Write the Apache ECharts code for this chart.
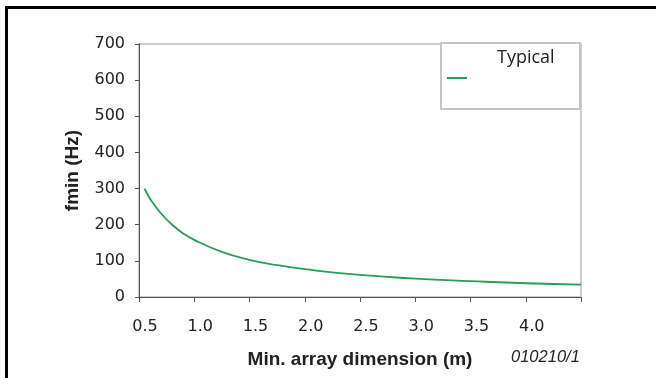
<!DOCTYPE html>
<html>
<head>
<meta charset="utf-8">
<script src="https://cdn.jsdelivr.net/npm/echarts@6/dist/echarts.min.js"></script>
<style>
html,body{margin:0;padding:0;background:#fff;}
#chart{width:656px;height:378px;}
</style>
</head>
<body>
<div id="chart"></div>
<script>
// Data
var dims = [0.55, 0.6, 0.7, 0.8, 0.9, 1.0, 1.25, 1.5, 1.75, 2.0, 2.5, 3.0, 3.5, 4.0, 4.5];
var fminTypical = [300, 272, 231, 200, 176, 158, 125, 103, 88, 77, 61, 51, 44, 38, 34];
var xTickLabels = ['0.5', '1.0', '1.5', '2.0', '2.5', '3.0', '3.5', '4.0', ''];
var yTickLabels = ['0', '100', '200', '300', '400', '500', '600', '700'];
var seriesName = 'Typical';

var chart = echarts.init(document.getElementById('chart'));
var pts = dims.map(function (d, i) { return [d, fminTypical[i]]; });
var font = '"Liberation Sans", Arial, sans-serif';
var tickFont = '"DejaVu Sans", sans-serif';

chart.setOption({
  animation: false,
  backgroundColor: '#fff',
  grid: {
    left: 139, right: 75, top: 44, bottom: 81,
    show: true, borderColor: '#bdbdbd', borderWidth: 1.5, backgroundColor: 'transparent'
  },
  xAxis: {
    type: 'value', min: 0.5, max: 4.5, interval: 0.5,
    name: 'Min. array dimension (m)', nameLocation: 'middle', nameGap: 53,
    nameTextStyle: { fontFamily: font, fontWeight: 'bold', fontSize: 19, color: '#222' },
    axisLine: { lineStyle: { color: '#555', width: 1 } },
    axisTick: { show: true, length: 5, inside: false, lineStyle: { color: '#555' } },
    splitLine: { show: false },
    axisLabel: {
      fontFamily: tickFont, fontSize: 16, color: '#222', margin: 22,
      padding: [0, 0, 0, 12],
      showMaxLabel: true,
      formatter: function (v) {
        var idx = Math.round((v - 0.5) / 0.5);
        return xTickLabels[idx] !== undefined ? xTickLabels[idx] : '';
      }
    }
  },
  yAxis: {
    type: 'value', min: 0, max: 700, interval: 100,
    name: 'fmin (Hz)', nameLocation: 'middle', nameGap: 57, nameRotate: 90,
    nameTextStyle: { fontFamily: font, fontWeight: 'bold', fontSize: 19, color: '#222' },
    axisLine: { show: true, lineStyle: { color: '#555', width: 1 } },
    axisTick: { show: true, length: 4, lineStyle: { color: '#555' } },
    splitLine: { show: false },
    axisLabel: {
      fontFamily: tickFont, fontSize: 16, color: '#222', margin: 14,
      formatter: function (v) { return yTickLabels[Math.round(v / 100)]; }
    }
  },
  legend: {
    left: 442, top: 43,
    data: [{ name: seriesName, icon: 'rect' }],
    itemWidth: 20, itemHeight: 2,
    formatter: function (n) { return n + '\n \n '; },
    textStyle: {
      fontFamily: '"Open Sans", "Noto Sans", sans-serif', fontSize: 18, color: '#222',
      lineHeight: 20,
      padding: [0, 0, 0, 25]
    },
    z: 10
  },
  graphic: [
    { type: 'rect', z: 5, shape: { x: 441, y: 43, width: 139, height: 66 },
      style: { fill: '#fff', stroke: '#c4c4c4', lineWidth: 2 } },
    { type: 'line', z: 20, shape: { x1: 5, y1: 7.5, x2: 656, y2: 7.5 },
      style: { stroke: '#000', lineWidth: 3 } },
    { type: 'line', z: 20, shape: { x1: 6.5, y1: 6, x2: 6.5, y2: 378 },
      style: { stroke: '#000', lineWidth: 3 } },
    { type: 'text', z: 20, left: 511, top: 349,
      style: { text: '010210/1', fontFamily: font, fontStyle: 'italic', fontSize: 16.5, fill: '#222' } }
  ],
  series: [{
    name: seriesName, type: 'line', data: pts, smooth: true,
    symbol: 'none', showSymbol: false,
    lineStyle: { color: '#2a9d58', width: 1.8 },
    itemStyle: { color: '#2a9d58' }
  }]
});
</script>
</body>
</html>
